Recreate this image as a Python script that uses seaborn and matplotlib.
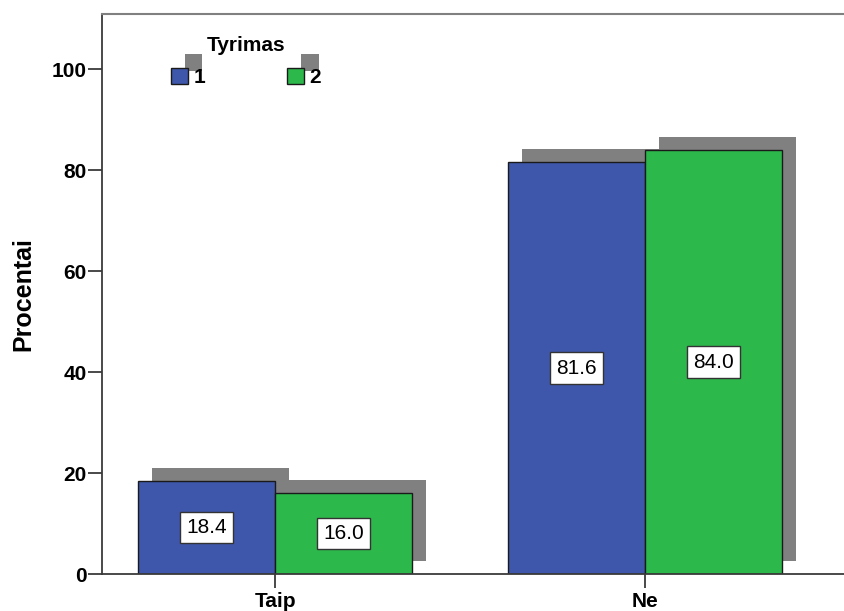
import matplotlib
matplotlib.use("Agg")
import matplotlib.pyplot as plt
import matplotlib.patheffects as pe
import pandas as pd
import seaborn as sns

# Survey answers, percentage per study round
categories = ["Taip", "Ne"]
rounds = ["1", "2"]
pct_round1 = [18.4, 81.6]
pct_round2 = [16.0, 84.0]
yticks = [0, 20, 40, 60, 80, 100]

df = pd.DataFrame({
    "Atsakymas": categories * 2,
    "Procentai": pct_round1 + pct_round2,
    "Tyrimas": [rounds[0]] * 2 + [rounds[1]] * 2,
})

sns.set_style("ticks")
plt.rcParams["font.family"] = ["Liberation Sans", "DejaVu Sans"]
plt.rcParams["text.color"] = "black"
plt.rcParams["axes.labelcolor"] = "black"
plt.rcParams["xtick.labelcolor"] = "black"
plt.rcParams["ytick.labelcolor"] = "black"

BLUE = "#3E57AA"
GREEN = "#2DB84B"
SHADOW = "#808080"
DARK = "#3a3a3a"

shadow_fx = [pe.SimplePatchShadow(offset=(10.2, 9.6), shadow_rgbFace=SHADOW, alpha=1.0),
             pe.Normal()]

fig = plt.figure(figsize=(8.45, 6.11), dpi=100)
ax = fig.add_axes([102 / 845, 37 / 611, 743 / 845, 560 / 611])

sns.barplot(data=df, x="Atsakymas", y="Procentai", hue="Tyrimas",
            order=categories, hue_order=rounds,
            palette=[BLUE, GREEN], saturation=1, width=0.74, gap=0,
            edgecolor="#1a1a1a", linewidth=1.0, ax=ax)

for container in ax.containers:
    for bar in container:
        bar.set_path_effects(shadow_fx)
    ax.bar_label(container, fmt="%.1f", label_type="center", fontsize=15,
                 color="black",
                 bbox=dict(boxstyle="square,pad=0.3", facecolor="white",
                           edgecolor="#333333", linewidth=1.0))

ax.set_xlim(-0.468, 1.54)
ax.set_ylim(0, 111)
ax.set_yticks(yticks)
ax.set_xlabel("")
ax.set_ylabel("Procentai", fontsize=18, fontweight="bold", labelpad=12,
              color="black")

ax.spines["right"].set_visible(False)
ax.spines["top"].set_color("#808080")
ax.spines["top"].set_linewidth(1.5)
for side in ("left", "bottom"):
    ax.spines[side].set_color(DARK)
    ax.spines[side].set_linewidth(1.3)

ax.tick_params(axis="both", length=10, width=1.3, color=DARK, labelsize=15,
               labelcolor="black")
ax.tick_params(axis="y", pad=1)
ax.tick_params(axis="x", pad=3)
for lbl in ax.get_yticklabels() + ax.get_xticklabels():
    lbl.set_fontweight("bold")

sns.move_legend(ax, "upper left", bbox_to_anchor=(171 / 845, 1 - 36 / 611),
                bbox_transform=fig.transFigure, ncol=2, title="Tyrimas",
                frameon=False, handlelength=0.82, handleheight=0.86,
                handletextpad=0.25, columnspacing=3.95, fontsize=15,
                title_fontsize=15, borderpad=0, borderaxespad=0,
                labelspacing=0.6)
leg = ax.get_legend()
leg.get_title().set_fontweight("bold")
leg.get_title().set_color("black")
for txt in leg.get_texts():
    txt.set_fontweight("bold")
    txt.set_color("black")
for handle in leg.legend_handles:
    handle.set_edgecolor("#1a1a1a")
    handle.set_linewidth(1.0)
    handle.set_path_effects(shadow_fx)

fig.savefig("out.png", dpi=100)
